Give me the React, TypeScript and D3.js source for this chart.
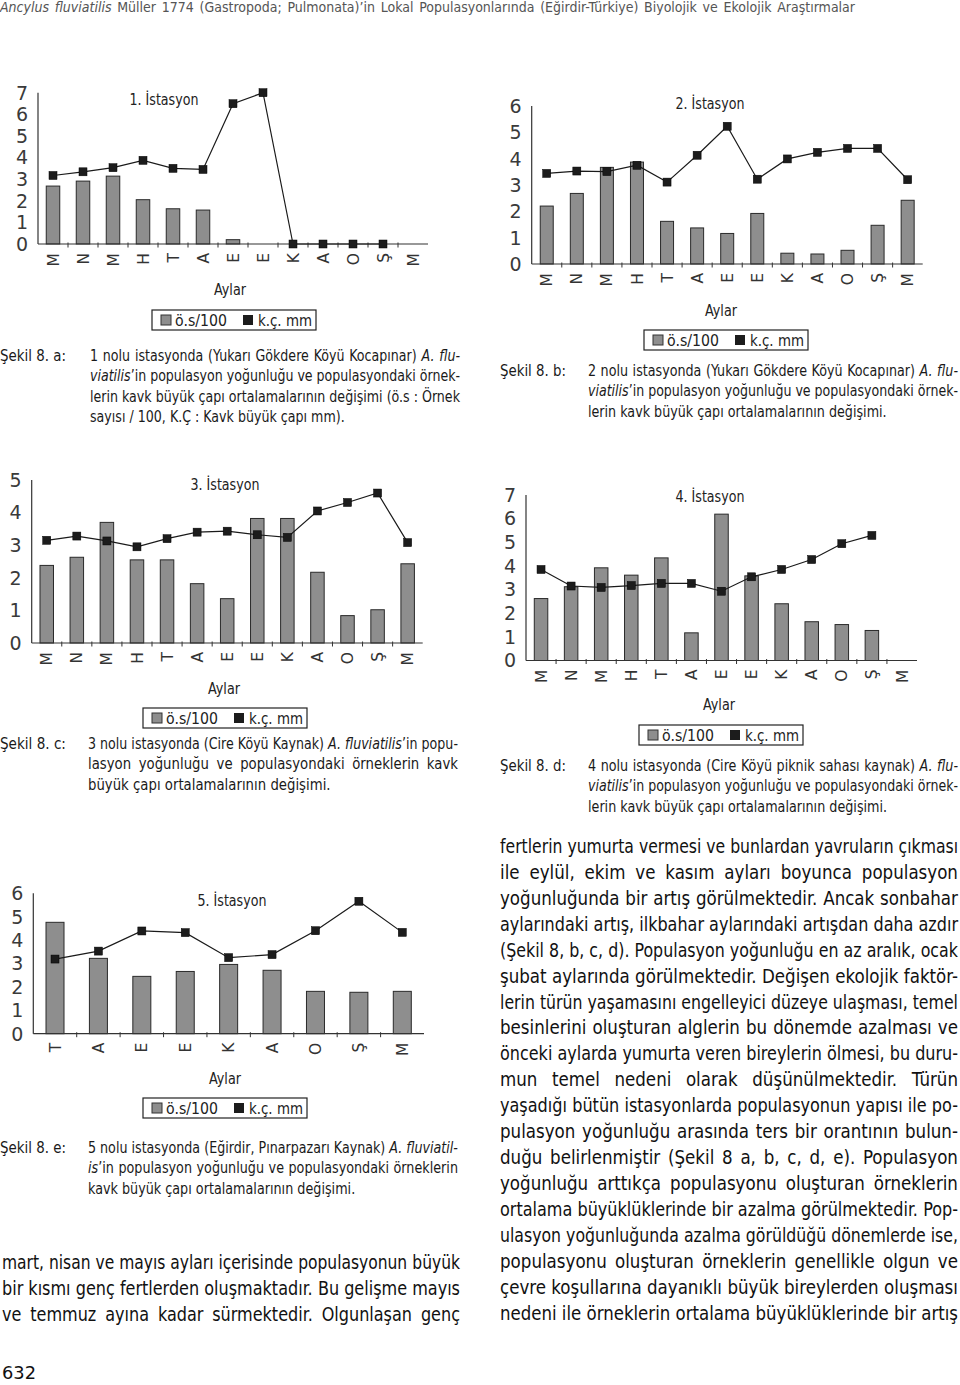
import React from "react";
import * as d3 from "d3";

// ---------- DATA ----------
const months13 = ["M", "N", "M", "H", "T", "A", "E", "E", "K", "A", "O", "Ş", "M"];
const months9 = ["T", "A", "E", "E", "K", "A", "O", "Ş", "M"];

// ö.s/100 (bars) and k.ç. mm (line) per station
const osA = [2.68, 2.91, 3.14, 2.05, 1.63, 1.57, 0.2, null, null, null, null, null, null];
const kcA = [3.17, 3.34, 3.53, 3.87, 3.5, 3.45, 6.49, 7.0, 0, 0, 0, 0, null];

const osB = [2.2, 2.68, 3.67, 3.87, 1.62, 1.37, 1.16, 1.92, 0.41, 0.38, 0.52, 1.47, 2.42];
const kcB = [3.44, 3.53, 3.51, 3.75, 3.11, 4.13, 5.23, 3.22, 3.99, 4.24, 4.39, 4.39, 3.2];

const osC = [2.38, 2.63, 3.7, 2.55, 2.55, 1.82, 1.36, 3.82, 3.82, 2.17, 0.84, 1.02, 2.43];
const kcC = [3.15, 3.28, 3.13, 2.95, 3.2, 3.4, 3.43, 3.32, 3.24, 4.05, 4.31, 4.6, 3.08];

const osD = [2.62, 3.12, 3.92, 3.61, 4.34, 1.17, 6.19, 3.58, 2.4, 1.64, 1.52, 1.27, null];
const kcD = [3.85, 3.15, 3.09, 3.17, 3.26, 3.26, 2.93, 3.54, 3.85, 4.27, 4.94, 5.29, null];

const osE = [4.76, 3.22, 2.45, 2.66, 2.96, 2.71, 1.81, 1.77, 1.81];
const kcE = [3.19, 3.53, 4.39, 4.32, 3.25, 3.38, 4.4, 5.66, 4.33];

const titles = ["1. İstasyon", "2. İstasyon", "3. İstasyon", "4. İstasyon", "5. İstasyon"];
const yMax = [7, 6, 5, 7, 6];
const legendLabels = ["ö.s/100", "k.ç. mm"];
const axisLabel = "Aylar";

type Seg = [string, boolean?];
const captionA: Seg[][] = [
  [["1 nolu istasyonda (Yukarı Gökdere Köyü Kocapınar) "], ["A. flu-", true]],
  [["viatilis", true], ["’in populasyon yoğunluğu ve populasyondaki örnek-"]],
  [["lerin kavk büyük çapı ortalamalarının değişimi (ö.s : Örnek"]],
  [["sayısı / 100, K.Ç : Kavk büyük çapı mm)."]],
];
const captionB: Seg[][] = [
  [["2 nolu istasyonda (Yukarı Gökdere Köyü Kocapınar) "], ["A. flu-", true]],
  [["viatilis", true], ["’in populasyon yoğunluğu ve populasyondaki örnek-"]],
  [["lerin kavk büyük çapı ortalamalarının değişimi."]],
];
const captionC: Seg[][] = [
  [["3 nolu istasyonda (Cire Köyü Kaynak) "], ["A. fluviatilis", true], ["’in popu-"]],
  [["lasyon yoğunluğu ve populasyondaki örneklerin kavk"]],
  [["büyük çapı ortalamalarının değişimi."]],
];
const captionD: Seg[][] = [
  [["4 nolu istasyonda (Cire Köyü piknik sahası kaynak) "], ["A. flu-", true]],
  [["viatilis", true], ["’in populasyon yoğunluğu ve populasyondaki örnek-"]],
  [["lerin kavk büyük çapı ortalamalarının değişimi."]],
];
const captionE: Seg[][] = [
  [["5 nolu istasyonda (Eğirdir, Pınarpazarı Kaynak) "], ["A. fluviatil-", true]],
  [["is", true], ["’in populasyon yoğunluğu ve populasyondaki örneklerin"]],
  [["kavk büyük çapı ortalamalarının değişimi."]],
];
const captionLabels = ["Şekil 8. a:", "Şekil 8. b:", "Şekil 8. c:", "Şekil 8. d:", "Şekil 8. e:"];

const header: Seg[][] = [
  [
    ["Ancylus fluviatilis", true],
    [" Müller 1774 (Gastropoda; Pulmonata)’in Lokal Populasyonlarında (Eğirdir-Türkiye) Biyolojik ve Ekolojik Araştırmalar"],
  ],
];

const leftBody: Seg[][] = [
  [["mart, nisan ve mayıs ayları içerisinde populasyonun büyük"]],
  [["bir kısmı genç fertlerden oluşmaktadır. Bu gelişme mayıs"]],
  [["ve temmuz ayına kadar sürmektedir. Olgunlaşan genç"]],
];
const rightBody: Seg[][] = [
  "fertlerin yumurta vermesi ve bunlardan yavruların çıkması",
  "ile eylül, ekim ve kasım ayları boyunca populasyon",
  "yoğunluğunda bir artış görülmektedir. Ancak sonbahar",
  "aylarındaki artış, ilkbahar aylarındaki artışdan daha azdır",
  "(Şekil 8, b, c, d). Populasyon yoğunluğu en az aralık, ocak",
  "şubat aylarında görülmektedir. Değişen ekolojik faktör-",
  "lerin türün yaşamasını engelleyici düzeye ulaşması, temel",
  "besinlerini oluşturan alglerin bu dönemde azalması ve",
  "önceki aylarda yumurta veren bireylerin ölmesi, bu duru-",
  "mun temel nedeni olarak düşünülmektedir. Türün",
  "yaşadığı bütün istasyonlarda populasyonun yapısı ile po-",
  "pulasyon yoğunluğu arasında ters bir  orantının bulun-",
  "duğu belirlenmiştir (Şekil 8 a, b, c, d, e). Populasyon",
  "yoğunluğu arttıkça populasyonu oluşturan örneklerin",
  "ortalama büyüklüklerinde bir azalma görülmektedir. Pop-",
  "ulasyon yoğunluğunda azalma görüldüğü dönemlerde ise,",
  "populasyonu oluşturan örneklerin genellikle olgun ve",
  "çevre koşullarına dayanıklı büyük bireylerden oluşması",
  "nedeni ile örneklerin ortalama büyüklüklerinde bir artış",
].map((t) => [[t] as Seg]);
const pageNumber = "632";

// ---------- TEXT LAYOUT HELPERS ----------
const NARROW = "'Liberation Sans Narrow','Arial Narrow','DejaVu Sans Condensed','Liberation Sans',sans-serif";
const WIDE = "'DejaVu Sans',Verdana,sans-serif";

let _ctx: CanvasRenderingContext2D | null = null;
function measure(t: string, fs: number, family: string, italic = false) {
  if (!_ctx) _ctx = document.createElement("canvas").getContext("2d");
  if (!_ctx) return t.length * fs * 0.5;
  _ctx.font = `${italic ? "italic " : ""}${fs}px ${family}`;
  return _ctx.measureText(t).width;
}

type Piece = { t: string; it: boolean };
function toWords(segs: Seg[]): Piece[][] {
  const words: Piece[][] = [];
  let cur: Piece[] = [];
  for (const [text, it] of segs) {
    const parts = text.replace(/\s+/g, " ").split(" ");
    parts.forEach((p, k) => {
      if (k > 0) {
        if (cur.length) words.push(cur);
        cur = [];
      }
      if (p) cur.push({ t: p, it: !!it });
    });
  }
  if (cur.length) words.push(cur);
  return words;
}

function Para({
  x, y, dy, width, fs, family = NARROW, fill = "#1a1a1a", lines, justifyLast = false,
}: { x: number; y: number; dy: number; width: number; fs: number; family?: string; fill?: string; lines: Seg[][]; justifyLast?: boolean }) {
  const sp = measure(" ", fs, family);
  const laid = lines.map((l) => {
    const words = toWords(l);
    const ww = words.map((w) => d3.sum(w, (p) => measure(p.t, fs, family, p.it)));
    const natural = d3.sum(ww) + sp * (words.length - 1);
    return { words, ww, natural };
  });
  const justified = (i: number) => justifyLast || i < lines.length - 1;
  const js = laid.filter((_, i) => justified(i));
  const ratios = (js.length ? js : laid).map((l) => width / l.natural);
  const blockS = Math.min(1, d3.median(ratios) as number);
  return (
    <g transform={`translate(${x},0)`}>
      {laid.map((l, i) => {
        const n = l.words.length;
        const s = Math.min(blockS, width / l.natural);
        const wLocal = width / s;
        const gap = justified(i) && n > 1 ? (wLocal - d3.sum(l.ww)) / (n - 1) : sp;
        let cx = 0;
        const xs = l.ww.map((w) => {
          const v = cx;
          cx += w + gap;
          return v;
        });
        return (
          <g key={i} transform={`scale(${s},1)`}>
            <text y={y + i * dy} dy="0.36em" fontSize={fs} fontFamily={family} fill={fill}>
              {l.words.map((w, k) =>
                w.map((p, j) => (
                  <tspan key={k + "_" + j} x={j === 0 ? xs[k] : undefined} fontStyle={p.it ? "italic" : "normal"}>
                    {p.t}
                  </tspan>
                ))
              )}
            </text>
          </g>
        );
      })}
    </g>
  );
}

function FitText({ x, y, w, fs, family = NARROW, fill = "#222", anchor = "start", children }: { x: number; y: number; w: number; fs: number; family?: string; fill?: string; anchor?: string; children: string }) {
  const nat = measure(children, fs, family);
  const s = w / nat;
  const x0 = anchor === "middle" ? x - w / 2 : x;
  return (
    <g transform={`translate(${x0},0) scale(${s},1)`}>
      <text x={0} y={y} dy="0.36em" fontSize={fs} fontFamily={family} fill={fill}>
        {children}
      </text>
    </g>
  );
}

// ---------- CHART LAYOUT ----------
type ChartCfg = {
  months: string[];
  os: (number | null)[];
  kc: (number | null)[];
  max: number;
  title: string;
  left: number; right: number; bottom: number; top: number;
  barW: number;
  titleX: number; titleY: number;
  aylarX: number; aylarY: number;
  legX: number; legY: number;
  capLabel: string; capLX: number; capX: number; capY: number; capLines: Seg[][];
};

const charts: ChartCfg[] = [
  {
    months: months13, os: osA, kc: kcA, max: yMax[0], title: titles[0],
    left: 38, right: 428, bottom: 244, top: 92.7, barW: 13.5,
    titleX: 164, titleY: 99, aylarX: 230, aylarY: 289, legX: 152, legY: 310,
    capLabel: captionLabels[0], capLX: 0, capX: 90, capY: 355, capLines: captionA,
  },
  {
    months: months13, os: osB, kc: kcB, max: yMax[1], title: titles[1],
    left: 531.7, right: 922.7, bottom: 264, top: 106, barW: 13,
    titleX: 710, titleY: 103, aylarX: 721, aylarY: 310, legX: 644, legY: 330,
    capLabel: captionLabels[1], capLX: 500, capX: 588, capY: 370, capLines: captionB,
  },
  {
    months: months13, os: osC, kc: kcC, max: yMax[2], title: titles[2],
    left: 31.7, right: 422.7, bottom: 643, top: 480, barW: 13.5,
    titleX: 225, titleY: 484, aylarX: 224, aylarY: 688, legX: 143, legY: 708,
    capLabel: captionLabels[2], capLX: 0, capX: 88, capY: 743, capLines: captionC,
  },
  {
    months: months13, os: osD, kc: kcD, max: yMax[3], title: titles[3],
    left: 526, right: 917, bottom: 660.5, top: 495, barW: 13.5,
    titleX: 710, titleY: 496, aylarX: 719, aylarY: 704, legX: 639, legY: 725,
    capLabel: captionLabels[3], capLX: 500, capX: 588, capY: 765, capLines: captionD,
  },
  {
    months: months9, os: osE, kc: kcE, max: yMax[4], title: titles[4],
    left: 33.3, right: 424, bottom: 1033.7, top: 893.3, barW: 18,
    titleX: 232, titleY: 900, aylarX: 225, aylarY: 1078, legX: 143, legY: 1098,
    capLabel: captionLabels[4], capLX: 0, capX: 88, capY: 1147, capLines: captionE,
  },
];

const CAP_W = 370;
const CAP_DY = 20.6;
const CAP_FS = 15.5;

function Chart({ c }: { c: ChartCfg }) {
  const idx = d3.range(c.months.length);
  const x = d3.scaleBand<number>().domain(idx).range([c.left, c.right]).padding(0);
  const y = d3.scaleLinear().domain([0, c.max]).range([c.bottom, c.top]);
  const cx = (i: number) => (x(i) as number) + x.bandwidth() / 2;
  const linePath = d3
    .line<number | null>()
    .defined((d) => d != null)
    .x((_, i) => cx(i))
    .y((d) => y(d as number))(c.kc);
  const ticks = d3.range(c.max + 1);
  const m = 8;
  const lx = c.legX;
  const ly = c.legY;
  return (
    <g>
      {c.os.map((v, i) =>
        v == null ? null : (
          <rect key={"b" + i} x={cx(i) - c.barW / 2} y={y(v)} width={c.barW} height={c.bottom - y(v)} fill="#8e8e8e" stroke="#2a2a2a" strokeWidth={1} />
        )
      )}
      <line x1={c.left} x2={c.left} y1={c.bottom} y2={c.top} stroke="#333" strokeWidth={1.2} />
      <line x1={c.left} x2={c.right} y1={c.bottom} y2={c.bottom} stroke="#333" strokeWidth={1.2} />
      {idx.slice(1).map((i) => (
        <line key={"t" + i} x1={x(i) as number} x2={x(i) as number} y1={c.bottom - 1.5} y2={c.bottom + 3.5} stroke="#333" strokeWidth={1} />
      ))}
      {ticks.map((t) => (
        <text key={"y" + t} x={c.left - 10} y={y(t)} dy="0.36em" textAnchor="end" fontSize={19} fontFamily={WIDE} fill="#3a3a3a">
          {t}
        </text>
      ))}
      {c.months.map((mo, i) => (
        <text key={"m" + i} transform={`translate(${cx(i)},${c.bottom + 9}) rotate(-90)`} textAnchor="end" dy="0.36em" fontSize={15.5} fontFamily={WIDE} fill="#333">
          {mo}
        </text>
      ))}
      <path d={linePath || ""} fill="none" stroke="#1a1a1a" strokeWidth={1.2} />
      {c.kc.map((v, i) =>
        v == null ? null : <rect key={"k" + i} x={cx(i) - m / 2} y={y(v) - m / 2} width={m} height={m} fill="#1c1c1c" stroke="#000" strokeWidth={0.5} />
      )}
      <FitText x={c.titleX} y={c.titleY} w={69} fs={16} anchor="middle">{c.title}</FitText>
      <FitText x={c.aylarX} y={c.aylarY} w={32} fs={16} anchor="middle">{axisLabel}</FitText>
      <rect x={lx} y={ly} width={164} height={20} fill="#fff" stroke="#222" strokeWidth={1.2} />
      <rect x={lx + 9} y={ly + 5} width={10} height={10} fill="#8e8e8e" stroke="#333" strokeWidth={1} />
      <FitText x={lx + 23} y={ly + 10} w={52} fs={16} family={WIDE}>{legendLabels[0]}</FitText>
      <rect x={lx + 91} y={ly + 5} width={10} height={10} fill="#1c1c1c" />
      <FitText x={lx + 106} y={ly + 10} w={54} fs={16} family={WIDE}>{legendLabels[1]}</FitText>
      <FitText x={c.capLX} y={c.capY} w={66} fs={CAP_FS} fill="#1a1a1a">{c.capLabel}</FitText>
      <Para x={c.capX} y={c.capY} dy={CAP_DY} width={CAP_W} fs={CAP_FS} lines={c.capLines} />
    </g>
  );
}

export default function App() {
  return (
    <svg width={960} height={1385} viewBox="0 0 960 1385" style={{ position: "absolute", left: 0, top: 0, background: "#fff" }}>
      <rect x={0} y={0} width={960} height={1385} fill="#fff" />
      <Para x={0} y={7} dy={0} width={855} fs={14} lines={header} fill="#555" justifyLast />
      {charts.map((c, i) => (
        <Chart key={i} c={c} />
      ))}
      <Para x={2} y={1262} dy={26} width={458} fs={19} lines={leftBody} fill="#111" justifyLast />
      <Para x={500} y={846} dy={25.95} width={458} fs={19} lines={rightBody} fill="#111" justifyLast />
      <FitText x={2} y={1373} w={34} fs={18} fill="#111">{pageNumber}</FitText>
    </svg>
  );
}
